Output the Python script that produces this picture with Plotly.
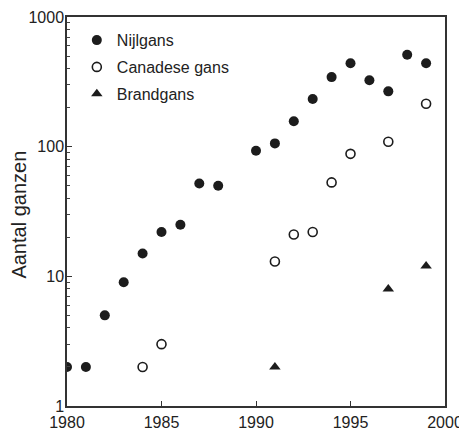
import plotly.graph_objects as go

years_nijl = [1980, 1981, 1982, 1983, 1984, 1985, 1986, 1987, 1988, 1990,
              1991, 1992, 1993, 1994, 1995, 1996, 1997, 1998, 1999]
nijlgans = [2, 2, 5, 9, 15, 22, 25, 52, 50, 93,
            106, 157, 233, 344, 440, 325, 267, 512, 440]

years_can = [1984, 1985, 1991, 1992, 1993, 1994, 1995, 1997, 1999]
canadese = [2, 3, 13, 21, 22, 53, 88, 109, 214]

years_brand = [1991, 1997, 1999]
brandgans = [2, 8, 12]

x_ticks = [1980, 1985, 1990, 1995, 2000]
y_ticks = [1, 10, 100, 1000]
y_minor = [m * d for d in (1, 10, 100) for m in range(2, 10)]

ink = "#1c1c1c"
font = "Liberation Sans, Arial, Helvetica, sans-serif"

fig = go.Figure()
fig.add_trace(go.Scatter(x=years_nijl, y=nijlgans, mode="markers", name="Nijlgans",
                         legendgroup="a",
                         marker=dict(symbol="circle", size=10, color=ink,
                                     line=dict(width=0))))
fig.add_trace(go.Scatter(x=years_can, y=canadese, mode="markers", name="Canadese gans",
                         legendgroup="b",
                         marker=dict(symbol="circle-open", size=9, color=ink,
                                     line=dict(width=1.6, color=ink))))
fig.add_trace(go.Scatter(x=years_brand, y=brandgans, mode="markers", name="Brandgans",
                         legendgroup="c",
                         marker=dict(symbol="triangle-up", size=10, color=ink,
                                     line=dict(width=0))))

fig.update_layout(
    width=459, height=422,
    margin=dict(l=59, r=22, t=9, b=24),
    paper_bgcolor="white", plot_bgcolor="white",
    font=dict(family=font, size=16, color="#222222"),
    showlegend=True,
    legend=dict(x=0.026, y=0.984, xanchor="left", yanchor="top",
                bgcolor="rgba(0,0,0,0)", font=dict(size=16, color="#222222"),
                tracegroupgap=3, itemwidth=30),
    xaxis=dict(range=[1980, 2000], tickvals=x_ticks, ticktext=[str(v) for v in x_ticks],
               ticks="inside", ticklen=5, tickwidth=1.2, tickcolor="#333333",
               showline=True, linecolor="#333333", linewidth=1.5, mirror=True,
               showgrid=False, zeroline=False, automargin=False,
               ticklabelstandoff=1),
    yaxis=dict(type="log", range=[0, 3], tickvals=y_ticks, ticktext=[str(v) for v in y_ticks],
               ticks="inside", ticklen=5, tickwidth=1.2, tickcolor="#333333",
               minor=dict(tickvals=y_minor, ticks="inside", ticklen=3, tickwidth=1,
                          tickcolor="#444444", showgrid=False),
               showline=True, linecolor="#333333", linewidth=1.5, mirror=True,
               showgrid=False, zeroline=False, automargin=False,
               ticklabelstandoff=-2),
    annotations=[dict(text="Aantal ganzen", xref="paper", yref="paper",
                      x=-0.128, y=0.491, xanchor="center", yanchor="middle",
                      textangle=-90, showarrow=False,
                      font=dict(size=20, color="#222222"))],
)

fig.write_html("out.html")
